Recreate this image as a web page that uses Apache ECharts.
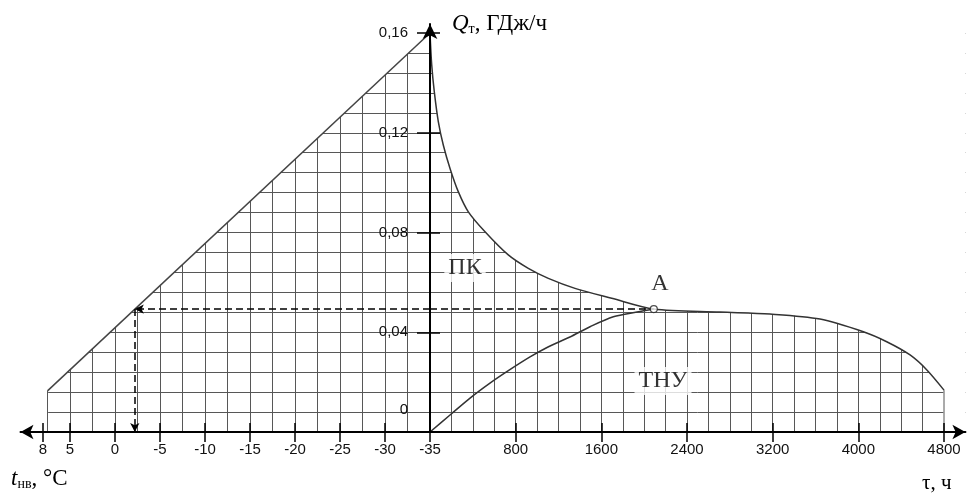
<!DOCTYPE html>
<html>
<head>
<meta charset="utf-8">
<script src="https://cdn.jsdelivr.net/npm/echarts@6/dist/echarts.min.js"></script>
<style>
  html, body { margin: 0; padding: 0; background: #fff; }
  #chart { width: 973px; height: 495px; }
</style>
</head>
<body>
<div id="chart"></div>
<script>
// Heat-load graph: outdoor temperature on the left half, duration (hours) on the right half.
const tempTicks = [8, 5, 0, -5, -10, -15, -20, -25, -30, -35];
const hourTicks = [800, 1600, 2400, 3200, 4000, 4800];
const loadLabels = [0, 0.04, 0.08, 0.12, 0.16];
const loadTickMarks = [0.04, 0.08, 0.12, 0.16];

// Load versus outdoor temperature (°C, GJ/h)
const tempLineT = [7.5, -35];
const tempLineQ = [0.0165, 0.16];

// Total load duration curve (h, GJ/h)
const totalHours = [0, 16, 40, 78, 124, 187, 264, 358, 514, 731, 918, 1105, 1354, 1697, 2090, 2708, 3175, 3642, 4047, 4265, 4483, 4640, 4800];
const totalLoad = [0.160, 0.1472, 0.1365, 0.1244, 0.1151, 0.1057, 0.0964, 0.0883, 0.0803, 0.0710, 0.0656, 0.0616, 0.0576, 0.0536, 0.0493, 0.0481, 0.0473, 0.0453, 0.0402, 0.0362, 0.0309, 0.0249, 0.0168];

// Heat pump part of the load (h, GJ/h)
const pumpHours = [0, 187, 374, 560, 728, 934, 1102, 1307, 1494, 1712, 1933, 2090];
const pumpLoad = [0, 0.0068, 0.0136, 0.0196, 0.0245, 0.0301, 0.0341, 0.0381, 0.0422, 0.0462, 0.0481, 0.0493];

// Balance point A and the outdoor temperature it corresponds to
const pointAHours = 2090;
const pointALoad = 0.0493;
const pointATemp = -2.2;

// ---- layout ----
const ORIGIN_X = 430, ORIGIN_Y = 432, TOP_Y = 24, Y016 = 33;
const DEG_PX = 9;                 // pixels per °C on the left half
const HOUR_PX = 514 / 4800;       // pixels per hour on the right half
const T_MIN = -35, T_MAX = 10.5;
const H_MAX = 5000;
const Q_MAX = 0.16 * (ORIGIN_Y - TOP_Y) / (ORIGIN_Y - Y016);
const GRID_H = ORIGIN_Y - TOP_Y;
const LEFT_W = DEG_PX * (T_MAX - T_MIN);
const RIGHT_W = HOUR_PX * H_MAX;

const HATCH = '#575757';
const TICK_FONT = { fontFamily: 'Liberation Sans, Arial, sans-serif', fontSize: 15, color: '#111' };
const SERIF = 'Liberation Serif, Times New Roman, serif';

const zip = (a, b) => a.map((v, i) => [v, b[i]]);
const hidden = { axisLine: { show: false }, axisTick: { show: false }, axisLabel: { show: false }, splitLine: { show: false } };
const warmEnd = tempLineT[0];
const seasonEnd = totalHours[totalHours.length - 1];

function hatchAxis(gridIndex, extra) {
  return Object.assign({
    gridIndex, type: 'value', ...hidden,
    splitLine: { show: true, showMinLine: true, showMaxLine: false, lineStyle: { color: HATCH, width: 1 } }
  }, extra);
}

const chart = echarts.init(document.getElementById('chart'), null, { renderer: 'canvas' });

const option = {
  animation: false,
  backgroundColor: '#fff',
  grid: [
    { left: ORIGIN_X - LEFT_W, top: TOP_Y, width: LEFT_W, height: GRID_H, outerBoundsMode: 'none', containLabel: false },
    { left: ORIGIN_X, top: TOP_Y, width: RIGHT_W, height: GRID_H, outerBoundsMode: 'none', containLabel: false }
  ],
  xAxis: [
    // 0: temperature hatch
    hatchAxis(0, { inverse: true, min: T_MIN, max: T_MAX, interval: 2.5 }),
    // 1: temperature axis line, ticks and labels
    {
      gridIndex: 0, type: 'value', inverse: true, min: T_MIN, max: T_MAX, position: 'bottom', z: 10,
      axisLine: { show: true, onZero: false, symbol: ['arrow', 'none'], symbolSize: [11, 13], lineStyle: { color: '#000', width: 2 } },
      axisTick: { show: true, customValues: tempTicks, length: 10, lineStyle: { color: '#000', width: 1.5 } },
      axisLabel: Object.assign({ show: true, customValues: tempTicks, margin: 10, hideOverlap: false, formatter: v => String(v) }, TICK_FONT),
      splitLine: { show: false }
    },
    // 2: inner half of the temperature ticks
    {
      gridIndex: 0, type: 'value', inverse: true, min: T_MIN, max: T_MAX, position: 'bottom', z: 10,
      axisLine: { show: false, onZero: false },
      axisTick: { show: true, inside: true, customValues: tempTicks, length: 9, lineStyle: { color: '#000', width: 1.5 } },
      axisLabel: { show: false }, splitLine: { show: false }
    },
    // 3: hours hatch
    hatchAxis(1, { min: 0, max: H_MAX, interval: 200 }),
    // 4: hours axis line, ticks and labels
    {
      gridIndex: 1, type: 'value', min: 0, max: H_MAX, position: 'bottom', z: 10,
      axisLine: { show: true, onZero: false, symbol: ['none', 'arrow'], symbolSize: [11, 13], lineStyle: { color: '#000', width: 2 } },
      axisTick: { show: true, customValues: hourTicks, length: 10, lineStyle: { color: '#000', width: 1.5 } },
      axisLabel: Object.assign({ show: true, customValues: hourTicks, margin: 10, hideOverlap: false, formatter: v => String(v) }, TICK_FONT),
      splitLine: { show: false }
    },
    // 5: inner half of the hour ticks
    {
      gridIndex: 1, type: 'value', min: 0, max: H_MAX, position: 'bottom', z: 10,
      axisLine: { show: false, onZero: false },
      axisTick: { show: true, inside: true, customValues: hourTicks, length: 9, lineStyle: { color: '#000', width: 1.5 } },
      axisLabel: { show: false }, splitLine: { show: false }
    }
  ],
  yAxis: [
    hatchAxis(0, { min: 0, max: Q_MAX, interval: 0.008 }),
    hatchAxis(1, { min: 0, max: Q_MAX, interval: 0.008 }),
    {
      gridIndex: 1, type: 'value', min: 0, max: Q_MAX, position: 'left', z: 10,
      axisLine: { show: true, onZero: false, symbol: ['none', 'arrow'], symbolSize: [11, 15], lineStyle: { color: '#000', width: 2 } },
      axisTick: { show: true, customValues: loadTickMarks, length: 13, lineStyle: { color: '#000', width: 1.5 } },
      axisLabel: Object.assign({
        show: true, customValues: loadLabels, margin: 22, hideOverlap: false,
        formatter: v => v === 0 ? '{z|0}' : v.toFixed(2).replace('.', ','),
        rich: { z: { fontFamily: TICK_FONT.fontFamily, fontSize: 15, color: '#111', padding: [0, 0, 44, 0] } }
      }, TICK_FONT),
      splitLine: { show: false }
    },
    {
      gridIndex: 1, type: 'value', min: 0, max: Q_MAX, position: 'left', z: 10,
      axisLine: { show: false, onZero: false },
      axisTick: { show: true, inside: true, customValues: loadTickMarks, length: 10, lineStyle: { color: '#000', width: 1.5 } },
      axisLabel: { show: false }, splitLine: { show: false }
    }
  ],
  series: [
    // blank strip beyond the warmest temperature
    {
      type: 'line', xAxisIndex: 0, yAxisIndex: 0, z: 2, silent: true, clip: false,
      data: [[warmEnd - 0.07, Q_MAX], [T_MAX + 0.5, Q_MAX]], symbol: 'none',
      lineStyle: { width: 0 },
      areaStyle: { color: '#fff', opacity: 1, origin: 'start' }
    },
    // load vs temperature; white fill above it keeps the hatch below the line
    {
      type: 'line', xAxisIndex: 0, yAxisIndex: 0, z: 3, silent: true,
      data: zip(tempLineT, tempLineQ), symbol: 'none',
      lineStyle: { color: '#444', width: 1.5 },
      areaStyle: { color: '#fff', opacity: 1, origin: 'end' }
    },
    // left edge of the hatched field
    {
      type: 'line', xAxisIndex: 0, yAxisIndex: 0, z: 3, silent: true,
      data: [[warmEnd, 0], [warmEnd, tempLineQ[0]]], symbol: 'none',
      lineStyle: { color: HATCH, width: 1 }
    },
    // blank strip past the end of the heating season
    {
      type: 'line', xAxisIndex: 3, yAxisIndex: 1, z: 2, silent: true,
      data: [[seasonEnd - 6, Q_MAX], [H_MAX, Q_MAX]], symbol: 'none',
      lineStyle: { width: 0 },
      areaStyle: { color: '#fff', opacity: 1, origin: 'start' }
    },
    // total load duration curve
    {
      type: 'line', xAxisIndex: 3, yAxisIndex: 1, z: 3, silent: true,
      data: zip(totalHours, totalLoad), symbol: 'none', smooth: 0.3,
      lineStyle: { color: '#333', width: 1.5 },
      areaStyle: { color: '#fff', opacity: 1, origin: 'end' }
    },
    // right edge of the hatched field
    {
      type: 'line', xAxisIndex: 3, yAxisIndex: 1, z: 3, silent: true,
      data: [[seasonEnd, 0], [seasonEnd, totalLoad[totalLoad.length - 1]]], symbol: 'none',
      lineStyle: { color: HATCH, width: 1 }
    },
    // heat pump curve
    {
      type: 'line', xAxisIndex: 3, yAxisIndex: 1, z: 3, silent: true,
      data: zip(pumpHours, pumpLoad), symbol: 'none', smooth: 0.3,
      lineStyle: { color: '#333', width: 1.5 }
    },
    // dashed projection from A onto the hours side
    {
      type: 'line', xAxisIndex: 3, yAxisIndex: 1, z: 4, silent: true,
      data: [[0, pointALoad], [pointAHours, pointALoad]], symbol: 'none',
      lineStyle: { color: '#000', width: 1.5, type: [7, 4] }
    },
    // dashed projection onto the temperature line and down to the temperature axis
    {
      type: 'line', xAxisIndex: 0, yAxisIndex: 0, z: 4, silent: true,
      data: [[pointATemp, pointALoad]], symbol: 'none', lineStyle: { width: 0 },
      markLine: {
        silent: true, symbol: ['none', 'arrow'], symbolSize: [7, 9], label: { show: false },
        lineStyle: { color: '#000', width: 1.5, type: [7, 4] },
        data: [
          [{ coord: [T_MIN, pointALoad] }, { coord: [pointATemp, pointALoad] }],
          [{ coord: [pointATemp, pointALoad] }, { coord: [pointATemp, 0] }]
        ]
      }
    },
    // point A
    {
      type: 'scatter', xAxisIndex: 3, yAxisIndex: 1, z: 6, silent: true,
      data: [[pointAHours, pointALoad]], symbol: 'circle', symbolSize: 7,
      itemStyle: { color: '#fff', borderColor: '#222', borderWidth: 1.2 }
    },
    // region names
    {
      type: 'scatter', xAxisIndex: 3, yAxisIndex: 1, z: 7, silent: true,
      symbolSize: 0,
      label: {
        show: true, position: 'inside', formatter: p => p.name,
        fontFamily: SERIF, fontSize: 24, color: '#000', backgroundColor: '#fff', padding: [2, 4]
      },
      data: [
        { name: 'ПК', value: [327, 0.0658] },
        { name: 'А', value: [2148, 0.0593] },
        { name: 'ТНУ', value: [2176, 0.0205] }
      ]
    }
  ],
  graphic: [
    {
      type: 'text', left: 452, top: 12, z: 20,
      style: {
        text: '{q|Q}{s|т}{n|, ГДж/ч}',
        rich: {
          q: { fontFamily: SERIF, fontStyle: 'italic', fontSize: 23, lineHeight: 26, verticalAlign: 'middle', fill: '#000' },
          s: { fontFamily: SERIF, fontSize: 14, lineHeight: 14, verticalAlign: 'bottom', fill: '#000' },
          n: { fontFamily: SERIF, fontSize: 23, lineHeight: 26, verticalAlign: 'middle', fill: '#000' }
        }
      }
    },
    {
      type: 'text', left: 11, top: 467, z: 20,
      style: {
        text: '{t|t}{s|нв}{n|, °C}',
        rich: {
          t: { fontFamily: SERIF, fontStyle: 'italic', fontSize: 23, lineHeight: 26, verticalAlign: 'middle', fill: '#000' },
          s: { fontFamily: SERIF, fontSize: 14, lineHeight: 14, verticalAlign: 'bottom', fill: '#000' },
          n: { fontFamily: SERIF, fontSize: 23, lineHeight: 26, verticalAlign: 'middle', fill: '#000' }
        }
      }
    },
    {
      type: 'text', left: 922, top: 473, z: 20,
      style: { text: 'τ, ч', fontFamily: SERIF, fontSize: 21, fill: '#000' }
    }
  ]
};

chart.setOption(option);
</script>
</body>
</html>
